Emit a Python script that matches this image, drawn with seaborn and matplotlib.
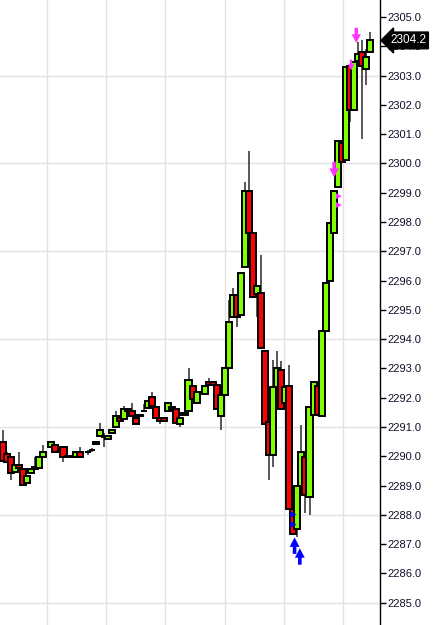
import numpy as np
import pandas as pd
import matplotlib
matplotlib.use("Agg")
import matplotlib.pyplot as plt
import matplotlib.transforms as mtrans
from matplotlib.path import Path
import seaborn as sns

# ---- data: bar time index, open, high, low, close ----
bar_index = [0, 1, 2, 3, 4, 5, 6, 7, 8, 9, 10, 12, 13, 15, 16, 18, 19, 21, 22, 23,
             24, 25, 26, 27, 28, 29, 30, 31, 32, 33, 34, 35, 36, 37, 38, 39, 40, 41, 42, 43,
             44, 45, 46, 47, 48, 49, 50, 51, 52, 53, 54, 55, 56, 57, 58, 59, 60, 61, 62, 63,
             64, 65, 66, 67, 68, 69, 70, 71, 72, 73, 74, 75, 76, 77, 78, 79, 80, 81, 82, 83,
             84, 85, 86, 87, 88, 89, 90, 91]
opens = [2290.50, 2290.09, 2289.96, 2289.48, 2289.72, 2289.55, 2289.10, 2289.44, 2289.58, 2289.61,
         2289.96, 2290.33, 2290.40, 2290.33, 2290.02, 2289.99, 2290.16, 2290.16, 2290.23, 2290.43,
         2290.71, 2290.67, 2290.60, 2290.81, 2291.01, 2291.32, 2291.29, 2291.63, 2291.53, 2291.32,
         2291.36, 2291.56, 2291.66, 2292.04, 2291.70, 2291.32, 2291.32, 2291.53, 2291.70, 2291.63,
         2291.12, 2291.42, 2291.53, 2292.41, 2291.83, 2292.18, 2292.14, 2292.52, 2292.52, 2292.45,
         2291.39, 2292.11, 2293.03, 2294.74, 2295.52, 2294.81, 2296.45, 2299.07, 2297.61, 2295.55,
         2295.59, 2293.61, 2291.18, 2290.06, 2292.35, 2292.93, 2291.83, 2292.41, 2288.21, 2287.53,
         2289.00, 2289.96, 2288.61, 2291.42, 2292.41, 2291.36, 2294.29, 2295.97, 2297.61, 2299.21,
         2300.71, 2300.10, 2303.31, 2301.81, 2303.51, 2303.79, 2303.21, 2303.82]
highs = [2290.91, 2290.15, 2290.00, 2289.75, 2290.13, 2289.58, 2289.36, 2289.57, 2289.99, 2290.00,
         2290.40, 2290.52, 2290.42, 2290.35, 2290.04, 2290.18, 2290.33, 2290.23, 2290.30, 2290.52,
         2291.15, 2290.81, 2290.73, 2290.93, 2291.53, 2291.34, 2291.73, 2291.65, 2291.83, 2291.34,
         2291.44, 2291.77, 2291.92, 2292.18, 2291.72, 2291.34, 2291.34, 2291.85, 2291.72, 2291.65,
         2291.34, 2291.51, 2293.03, 2292.43, 2292.23, 2292.23, 2292.43, 2292.66, 2292.54, 2292.47,
         2292.13, 2293.05, 2295.35, 2295.76, 2295.54, 2296.29, 2299.35, 2300.41, 2297.63, 2295.82,
         2296.89, 2293.63, 2291.20, 2293.30, 2293.61, 2293.24, 2292.37, 2293.13, 2288.23, 2289.02,
         2291.08, 2289.98, 2291.72, 2292.54, 2292.43, 2294.31, 2295.95, 2297.97, 2299.09, 2300.80,
         2300.73, 2303.30, 2303.33, 2303.47, 2304.13, 2304.23, 2303.89, 2304.50]
lows = [2289.80, 2289.80, 2289.20, 2289.45, 2289.58, 2289.00, 2289.08, 2289.42, 2289.56, 2289.58,
        2289.94, 2290.31, 2290.14, 2289.82, 2289.94, 2289.97, 2289.97, 2290.06, 2290.16, 2290.41,
        2290.69, 2290.33, 2290.58, 2290.79, 2290.99, 2291.20, 2291.27, 2291.51, 2291.34, 2291.10,
        2291.34, 2291.53, 2291.64, 2291.71, 2291.30, 2291.12, 2291.20, 2291.51, 2291.61, 2291.13,
        2291.01, 2291.40, 2291.51, 2291.92, 2291.81, 2292.16, 2292.12, 2292.43, 2292.43, 2291.61,
        2290.91, 2292.09, 2293.01, 2294.72, 2294.40, 2294.79, 2296.43, 2297.59, 2295.43, 2294.77,
        2293.69, 2291.10, 2289.20, 2289.65, 2292.33, 2291.61, 2291.81, 2288.19, 2287.34, 2287.26,
        2288.98, 2288.07, 2288.01, 2291.40, 2291.40, 2291.34, 2294.27, 2295.95, 2297.59, 2299.19,
        2300.04, 2300.08, 2301.43, 2301.79, 2303.49, 2300.82, 2302.69, 2303.80]
closes = [2289.85, 2289.82, 2289.44, 2289.72, 2289.61, 2289.03, 2289.34, 2289.55, 2289.65, 2289.99,
          2290.13, 2290.50, 2290.16, 2289.99, 2289.96, 2290.16, 2289.99, 2290.16, 2290.23, 2290.50,
          2290.91, 2290.67, 2290.71, 2290.91, 2291.39, 2291.22, 2291.60, 2291.53, 2291.36, 2291.12,
          2291.42, 2291.56, 2291.90, 2291.73, 2291.32, 2291.22, 2291.22, 2291.83, 2291.63, 2291.15,
          2291.32, 2291.49, 2292.62, 2291.94, 2292.21, 2292.21, 2292.41, 2292.45, 2292.45, 2291.63,
          2292.11, 2293.03, 2294.60, 2295.52, 2294.74, 2296.27, 2299.07, 2297.61, 2295.45, 2295.80,
          2293.71, 2291.12, 2290.06, 2292.35, 2293.03, 2291.63, 2292.35, 2288.21, 2287.36, 2289.00,
          2290.13, 2288.69, 2291.70, 2292.52, 2291.42, 2294.29, 2295.93, 2297.95, 2299.07, 2300.78,
          2300.06, 2303.28, 2301.81, 2303.45, 2303.72, 2303.31, 2303.62, 2304.20]

# trade markers
sell_x = [87.6, 86.3, 82.1]
sell_y = [2304.37, 2303.36, 2299.79]
sell_small_x = [83.3, 83.3]
sell_small_y = [2298.88, 2298.58]
buy_small_x = [72.0, 72.0]
buy_small_y = [2288.01, 2287.67]
buy_x = [72.3, 73.6]
buy_y = [2286.95, 2286.58]

y_tick_values = list(range(2285, 2306))
last_price_label = "2304.2"

# ---- style ----
sns.set_style("white")
plt.rcParams['font.family'] = ['Liberation Sans', 'DejaVu Sans']

fig = plt.figure(figsize=(4.37, 6.25), dpi=100)
ax = fig.add_axes([0, 0, 380 / 437, 1])

df = pd.DataFrame(dict(t=bar_index, o=opens, h=highs, l=lows, c=closes))
up = df.c >= df.o
colors = np.where(up, '#80ff00', '#ff0000')

# grid
for gy in range(2285, 2305, 3):
    ax.axhline(gy, color='#e2e2e2', lw=1.0, zorder=0)
for gx in [10.9 + 14.68 * k for k in range(6)]:
    ax.axvline(gx, color='#e2e2e2', lw=1.0, zorder=0)

# candles
ax.vlines(df.t, df.l, df.h, color='#2a2a2a', lw=1.1, zorder=2)
ax.bar(df.t, df.c - df.o, bottom=df.o, width=1.5, color=colors,
       edgecolor='black', linewidth=1.4, zorder=3)

# markers
down_arrow = Path([(-0.22, 1), (0.22, 1), (0.22, 0.15), (0.6, 0.15), (0, -1),
                   (-0.6, 0.15), (-0.22, 0.15), (-0.22, 1)])
up_arrow = Path([(-0.22, -1), (0.22, -1), (0.22, -0.15), (0.6, -0.15), (0, 1),
                 (-0.6, -0.15), (-0.22, -0.15), (-0.22, -1)])
sns.scatterplot(x=sell_x, y=sell_y, marker=down_arrow, s=[120, 60, 130],
                color='#ff33ff', edgecolor='none', ax=ax, zorder=5, legend=False)
sns.scatterplot(x=sell_small_x, y=sell_small_y, marker='>', s=18,
                color='#ff33ff', edgecolor='none', ax=ax, zorder=5, legend=False)
sns.scatterplot(x=buy_small_x, y=buy_small_y, marker='>', s=22,
                color='#0000ff', edgecolor='none', ax=ax, zorder=5, legend=False)
sns.scatterplot(x=buy_x, y=buy_y, marker=up_arrow, s=140,
                color='#0000ff', edgecolor='none', ax=ax, zorder=5, legend=False)

# axes
ax.set_xlim(-0.744, 93.48)
ax.set_ylim(2284.24, 2305.58)
ax.set_xticks([])
ax.set_yticks(y_tick_values)
ax.set_yticklabels([f"{v:.1f}" for v in y_tick_values])
ax.yaxis.tick_right()
ax.tick_params(axis='y', right=True, left=False, direction='out', length=4,
               width=1, color='black', labelsize=8, labelcolor='#10102a', pad=1)
for s in ['left', 'top', 'bottom']:
    ax.spines[s].set_visible(False)
ax.spines['right'].set_color('black')
ax.spines['right'].set_linewidth(1.0)
ax.set_xlabel('')
ax.set_ylabel('')

# last price tag
trans = mtrans.blended_transform_factory(ax.transAxes, ax.transData)
ax.text(1.0 + 10 / 380, closes[-1], last_price_label, transform=trans, ha='left', va='center',
        color='white', fontsize=8.5, zorder=10, clip_on=False,
        bbox=dict(boxstyle='larrow,pad=0.2', fc='black', ec='black'))

fig.savefig('out.png', dpi=100)
